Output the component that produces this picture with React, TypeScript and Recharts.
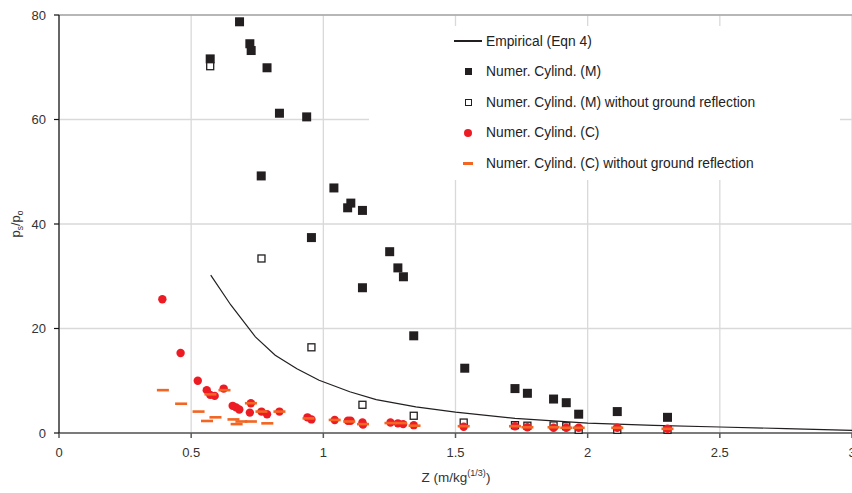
import {
  ScatterChart,
  Scatter,
  XAxis,
  YAxis,
  CartesianGrid,
  ReferenceLine,
  Label,
} from "recharts";

// Empirical (Eqn 4)
const empX = [0.574, 0.65, 0.743, 0.818, 0.9, 0.984, 1.1, 1.2, 1.35, 1.5, 1.725, 2.0, 2.25, 2.5, 2.75, 3.0];
const empY = [30.2, 24.5, 18.4, 14.9, 12.3, 10.1, 7.9, 6.4, 5.0, 4.0, 2.8, 1.9, 1.45, 1.15, 0.85, 0.5];

// Numer. Cylind. (M)
const mX = [0.572, 0.683, 0.722, 0.727, 0.787, 0.834, 0.937, 0.765, 1.04, 1.092, 1.104, 1.148, 0.955, 1.251, 1.282, 1.303, 1.148, 1.342, 1.535, 1.725, 1.772, 1.871, 1.919, 1.966, 2.112, 2.302];
const mY = [71.6, 78.7, 74.5, 73.2, 69.9, 61.2, 60.5, 49.2, 46.9, 43.1, 44.0, 42.6, 37.4, 34.7, 31.6, 29.9, 27.8, 18.6, 12.4, 8.5, 7.6, 6.5, 5.8, 3.6, 4.1, 3.0];

// Numer. Cylind. (M) without ground reflection
const mNoX = [0.572, 0.766, 0.955, 1.148, 1.342, 1.531, 1.725, 1.772, 1.871, 1.919, 1.966, 2.112, 2.302];
const mNoY = [70.2, 33.4, 16.4, 5.4, 3.3, 2.0, 1.5, 1.4, 1.45, 1.3, 0.6, 0.6, 0.6];

// Numer. Cylind. (C)
const cX = [0.391, 0.46, 0.525, 0.559, 0.572, 0.589, 0.623, 0.657, 0.67, 0.682, 0.722, 0.726, 0.766, 0.787, 0.834, 0.94, 0.955, 1.043, 1.093, 1.103, 1.148, 1.15, 1.254, 1.282, 1.302, 1.342, 1.531, 1.725, 1.772, 1.871, 1.919, 1.966, 2.112, 2.302];
const cY = [25.6, 15.3, 10.0, 8.2, 7.3, 7.1, 8.5, 5.2, 4.9, 4.5, 3.9, 5.7, 4.1, 3.6, 4.1, 3.0, 2.6, 2.5, 2.35, 2.35, 2.0, 1.6, 2.0, 1.85, 1.7, 1.5, 1.2, 1.3, 1.1, 1.0, 1.0, 1.0, 1.0, 0.8];

// Numer. Cylind. (C) without ground reflection
const cNoX = [0.393, 0.462, 0.528, 0.56, 0.573, 0.592, 0.626, 0.66, 0.672, 0.69, 0.726, 0.726, 0.766, 0.788, 0.834, 0.944, 1.043, 1.098, 1.15, 1.254, 1.294, 1.345, 1.531, 1.725, 1.772, 1.871, 1.919, 1.966, 2.112, 2.302];
const cNoY = [8.2, 5.6, 4.1, 2.3, 7.4, 3.0, 8.2, 2.6, 1.7, 2.2, 2.2, 5.7, 4.1, 1.85, 4.1, 2.8, 2.5, 2.2, 1.7, 1.9, 1.9, 1.4, 1.3, 1.3, 1.1, 1.1, 1.0, 1.0, 1.0, 0.8];

const xTicks = [0, 0.5, 1, 1.5, 2, 2.5, 3];
const yTicks = [0, 20, 40, 60, 80];

const legendNames = [
  "Empirical (Eqn 4)",
  "Numer. Cylind. (M)",
  "Numer. Cylind. (M) without ground reflection",
  "Numer. Cylind. (C)",
  "Numer. Cylind. (C) without ground reflection",
];

const zip = (xs: number[], ys: number[]) => xs.map((x, i) => ({ x, y: ys[i] }));

const FONT = "'Liberation Sans', Arial, sans-serif";
const BLACK = "#231f20";
const RED = "#ed1c24";
const ORANGE = "#f26522";

const FilledSquare = (p: any) => (
  <rect x={p.cx - 4.5} y={p.cy - 4.5} width={9} height={9} fill={BLACK} />
);
const OpenSquare = (p: any) => (
  <rect x={p.cx - 3.5} y={p.cy - 3.5} width={7} height={7} fill="#fff" stroke={BLACK} strokeWidth={1.3} />
);
const RedDot = (p: any) => <circle cx={p.cx} cy={p.cy} r={4.2} fill={RED} />;
const Dash = (p: any) => (
  <rect x={p.cx - 6} y={p.cy - 1.3} width={12} height={2.6} fill={ORANGE} />
);
const NoMark = () => <g />;

function LegendBox() {
  const marker = (i: number) => {
    if (i === 0) return <div style={{ width: 28, height: 1.5, background: BLACK }} />;
    if (i === 1) return <div style={{ width: 7, height: 7, background: BLACK }} />;
    if (i === 2) return <div style={{ width: 5, height: 5, border: `1.2px solid ${BLACK}` }} />;
    if (i === 3) return <div style={{ width: 8, height: 8, borderRadius: 4, background: RED }} />;
    return <div style={{ width: 10, height: 3, background: ORANGE }} />;
  };
  return (
    <div style={{ position: "absolute", left: 369, top: 26, width: 471, height: 154, background: "#fff" }}>
      {legendNames.map((name, i) => (
        <div
          key={name}
          style={{ position: "absolute", left: 0, top: 5 + i * 30.5, height: 20, display: "flex", alignItems: "center" }}
        >
          <div style={{ width: 28, marginLeft: 85, display: "flex", justifyContent: "center" }}>{marker(i)}</div>
          <span style={{ marginLeft: 4, fontSize: 13.8, color: "#222", fontFamily: FONT, whiteSpace: "nowrap" }}>
            {name}
          </span>
        </div>
      ))}
    </div>
  );
}

const YTitle = () => (
  <text transform="translate(20,224) rotate(-90)" textAnchor="middle" fontSize={13} fill="#333" fontFamily={FONT}>
    p<tspan fontSize={8.5} dy={3}>s</tspan>
    <tspan dy={-3}>/p</tspan>
    <tspan fontSize={8.5} dy={3}>o</tspan>
  </text>
);

const XTitle = () => (
  <text x={456} y={482} textAnchor="middle" fontSize={13.5} fill="#333" fontFamily={FONT}>
    Z (m/kg<tspan fontSize={9} dy={-6}>(1/3)</tspan>
    <tspan dy={6}>)</tspan>
  </text>
);

export default function App() {
  return (
    <div style={{ position: "absolute", left: 0, top: 0, width: 852, height: 493, overflow: "hidden", background: "#fff" }}>
      <ScatterChart width={870} height={493} margin={{ top: 15, right: 18, bottom: 0, left: 0 }}>
        <CartesianGrid stroke="#d9d9d9" strokeWidth={1.3} verticalValues={xTicks} horizontalValues={yTicks} />
        <ReferenceLine y={80} stroke="#8c8c8c" strokeWidth={1} />
        <XAxis
          type="number"
          dataKey="x"
          domain={[0, 3]}
          ticks={xTicks}
          height={60}
          stroke="#595959"
          strokeWidth={1.5}
          tickSize={5}
          tickMargin={10}
          tick={{ fontSize: 13, fill: "#333", fontFamily: FONT }}
          allowDataOverflow
        >
          <Label content={<XTitle />} />
        </XAxis>
        <YAxis
          type="number"
          dataKey="y"
          domain={[0, 80]}
          ticks={yTicks}
          width={59}
          stroke="#111"
          strokeWidth={1.2}
          tickSize={5}
          tickMargin={8}
          tick={{ fontSize: 13, fill: "#333", fontFamily: FONT }}
        >
          <Label content={<YTitle />} />
        </YAxis>
        <Scatter
          name={legendNames[0]}
          data={zip(empX, empY)}
          line={{ stroke: BLACK, strokeWidth: 1.2 }}
          lineType="joint"
          shape={NoMark}
          isAnimationActive={false}
        />
        <Scatter name={legendNames[1]} data={zip(mX, mY)} shape={FilledSquare} isAnimationActive={false} />
        <Scatter name={legendNames[2]} data={zip(mNoX, mNoY)} shape={OpenSquare} isAnimationActive={false} />
        <Scatter name={legendNames[3]} data={zip(cX, cY)} shape={RedDot} isAnimationActive={false} />
        <Scatter name={legendNames[4]} data={zip(cNoX, cNoY)} shape={Dash} isAnimationActive={false} />
      </ScatterChart>
      <LegendBox />
    </div>
  );
}
